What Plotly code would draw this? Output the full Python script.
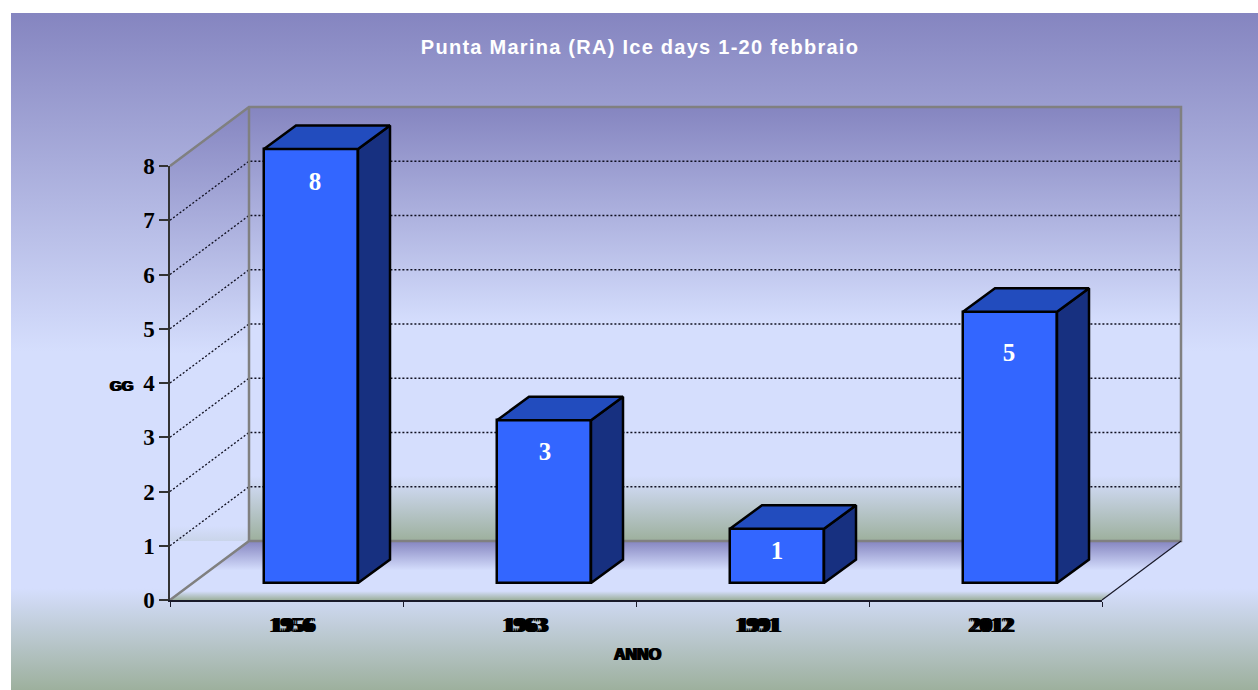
import plotly.graph_objects as go

# ---- data ----
YEARS = ["1956", "1963", "1991", "2012"]
ICE_DAYS = [8, 3, 1, 5]
Y_TICKS = [0, 1, 2, 3, 4, 5, 6, 7, 8]
X_BOUNDARIES = [0, 1, 2, 3, 4]
TITLE = "Punta Marina (RA) Ice days 1-20 febbraio"

# ---- layout geometry (pixels) ----
W, H = 1258, 690
PX_X0, PX_CAT = 170, 233
PX_Y0, PX_UNIT = 600, 54.25
LEFT, TOP = 11, 13


def ux(px):
    return (px - PX_X0) / PX_CAT


def uy(py):
    return (PX_Y0 - py) / PX_UNIT


DEPTH_X, DEPTH_Y = 79 / PX_CAT, 59 / PX_UNIT
BAR_SHIFT_X, BAR_BASE = 24.5 / PX_CAT, 17 / PX_UNIT
BAR_W = 94 / PX_CAT
BAR_DX, BAR_DY = 32 / PX_CAT, 23.5 / PX_UNIT
LABEL_DROP_PX = [35, 33, 24, 43]
LABEL_SHIFT_PX = [4, 1, 0, -1]

GRAD = [[0, "#8585c0"], [0.5, "#d5defd"], [0.85, "#d5defd"], [1, "#9db09d"]]
PALE = "#d5defd"
GREY = "#808080"
FRONT, SIDE, TOPC = "#3366ff", "#173080", "#224cbe"
INK = "#1a1a2a"

fig = go.Figure()


def poly(xs, ys, top=None, bottom=None, color=None, axes=("x", "y")):
    kw = dict(x=xs + xs[:1], y=ys + ys[:1], mode="lines", fill="toself", line=dict(width=0),
              hoverinfo="skip", showlegend=False, xaxis=axes[0], yaxis=axes[1])
    if color:
        kw["fillcolor"] = color
    else:
        kw["fillgradient"] = dict(type="vertical", colorscale=[[1 - p, c] for p, c in reversed(GRAD)],
                                  start=bottom, stop=top)
    fig.add_trace(go.Scatter(**kw))


def line(xs, ys, color, width, dash="solid"):
    fig.add_trace(go.Scatter(x=xs, y=ys, mode="lines", line=dict(color=color, width=width, dash=dash),
                             hoverinfo="skip", showlegend=False, xaxis="x", yaxis="y"))


x_end = X_BOUNDARIES[-1]
y_end = Y_TICKS[-1]

# page background
poly([ux(LEFT), ux(W), ux(W), ux(LEFT)], [uy(TOP), uy(TOP), uy(H), uy(H)], top=uy(TOP), bottom=uy(H))
# back wall
poly([DEPTH_X, x_end + DEPTH_X, x_end + DEPTH_X, DEPTH_X],
     [DEPTH_Y, DEPTH_Y, y_end + DEPTH_Y, y_end + DEPTH_Y], top=y_end + DEPTH_Y, bottom=DEPTH_Y)
# left wall
poly([0, DEPTH_X, DEPTH_X, 0], [0, DEPTH_Y, y_end + DEPTH_Y, y_end], top=y_end + DEPTH_Y, bottom=0)
poly([0, DEPTH_X, 0], [0, DEPTH_Y, DEPTH_Y], color=PALE)
# floor
poly([0, x_end, x_end + DEPTH_X, DEPTH_X], [0, 0, DEPTH_Y, DEPTH_Y], top=DEPTH_Y, bottom=0)

# grid lines on the walls
for v in Y_TICKS[1:-1]:
    line([0, DEPTH_X, x_end + DEPTH_X], [v, v + DEPTH_Y, v + DEPTH_Y], "#101020", 1.3, "2px,2px")

# wall outline
line([0, DEPTH_X, x_end + DEPTH_X, x_end + DEPTH_X, DEPTH_X, 0],
     [y_end, y_end + DEPTH_Y, y_end + DEPTH_Y, DEPTH_Y, DEPTH_Y, 0], GREY, 2.5)
line([DEPTH_X, DEPTH_X], [DEPTH_Y, y_end + DEPTH_Y], GREY, 2.5)
line([x_end, x_end + DEPTH_X], [0, DEPTH_Y], INK, 1.2)

# bars: front faces go through the bar trace, depth faces follow the same values
centers = [i + 0.5 + BAR_SHIFT_X for i in range(len(YEARS))]
fig.add_trace(go.Bar(x=centers, y=ICE_DAYS, base=BAR_BASE, width=BAR_W,
                     marker=dict(color=FRONT, line=dict(color="#000000", width=2.5)),
                     hoverinfo="skip", showlegend=False, xaxis="x3", yaxis="y3"))
for c, v in zip(centers, ICE_DAYS):
    l, r = c - BAR_W / 2, c + BAR_W / 2
    b, t = BAR_BASE, BAR_BASE + v
    for xs, ys, col in [
        ([r, r + BAR_DX, r + BAR_DX, r], [b, b + BAR_DY, t + BAR_DY, t], SIDE),
        ([l, r, r + BAR_DX, l + BAR_DX], [t, t, t + BAR_DY, t + BAR_DY], TOPC),
    ]:
        fig.add_trace(go.Scatter(x=xs + xs[:1], y=ys + ys[:1], mode="lines", fill="toself", fillcolor=col,
                                 line=dict(color="#000000", width=2.5), hoverinfo="skip", showlegend=False,
                                 xaxis="x3", yaxis="y3"))

fig.add_trace(go.Scatter(
    x=[c + s / PX_CAT for c, s in zip(centers, LABEL_SHIFT_PX)],
    y=[BAR_BASE + v - d / PX_UNIT for v, d in zip(ICE_DAYS, LABEL_DROP_PX)],
    mode="text", text=[str(v) for v in ICE_DAYS], textposition="middle center",
    textfont=dict(family="Liberation Serif", size=25, color="white", weight="bold"),
    hoverinfo="skip", showlegend=False, xaxis="x3", yaxis="y3"))

# a trace so that the real axes exist
fig.add_trace(go.Scatter(x=[0.5], y=[0], mode="markers", marker=dict(opacity=0), hoverinfo="skip",
                         showlegend=False, xaxis="x2", yaxis="y2"))

full_x = [ux(0), ux(W)]
full_y = [uy(H), uy(0)]
hidden = dict(visible=False, fixedrange=True, showgrid=False, zeroline=False)
fig.update_layout(
    width=W, height=H, margin=dict(l=0, r=0, t=0, b=0, pad=0, autoexpand=False),
    paper_bgcolor="white", plot_bgcolor="rgba(0,0,0,0)",
    showlegend=False, bargap=0, hovermode=False,
    title=dict(text=TITLE, x=640 / W, y=1 - 47 / H, xanchor="center", yanchor="middle",
               font=dict(family="Liberation Sans", size=20, color="white", weight="bold")),
    xaxis=dict(domain=[0, 1], range=full_x, anchor="y", **hidden),
    yaxis=dict(domain=[0, 1], range=full_y, anchor="x", **hidden),
    xaxis3=dict(domain=[0, 1], range=full_x, anchor="y3", **hidden),
    yaxis3=dict(domain=[0, 1], range=full_y, anchor="x3", **hidden),
    xaxis2=dict(domain=[PX_X0 / W, (PX_X0 + 4 * PX_CAT) / W], range=[0, x_end], anchor="y2",
                showgrid=False, zeroline=False, showline=True, linecolor=INK, linewidth=1.5,
                tickmode="array", tickvals=[i + 0.5 for i in range(len(YEARS))], ticktext=YEARS,
                ticks="", ticklabelstandoff=4, ticklabelshift=6,
                tickfont=dict(family="Liberation Serif", size=22, color="#000000", weight="bold",
                              shadow="2px 0 0 #000, -2px 0 0 #000"),
                minor=dict(tickmode="array", tickvals=X_BOUNDARIES, ticks="outside", ticklen=5,
                           tickcolor=INK, tickwidth=1, showgrid=False),
                fixedrange=True),
    yaxis2=dict(domain=[(H - PX_Y0) / H, (H - PX_Y0 + 8 * PX_UNIT) / H], range=[0, y_end], anchor="x2",
                showgrid=False, zeroline=False, showline=True, linecolor="#333333", linewidth=1.5,
                tickmode="array", tickvals=Y_TICKS, ticks="outside", ticklen=9, tickcolor="#333333",
                tickwidth=1.5, ticklabelstandoff=0,
                tickfont=dict(family="Liberation Serif", size=23, color="#000000", weight="bold"),
                fixedrange=True),
    annotations=[
        dict(text="GG", xref="paper", yref="paper", x=121 / W, y=1 - 386 / H, showarrow=False,
             xanchor="center", yanchor="middle",
             font=dict(family="Liberation Sans", size=15, color="#000000", weight="bold",
                       shadow="1px 0 0 #000, -1px 0 0 #000")),
        dict(text="ANNO", xref="paper", yref="paper", x=637 / W, y=1 - 654 / H, showarrow=False,
             xanchor="center", yanchor="middle",
             font=dict(family="Liberation Sans", size=16, color="#000000", weight="bold",
                       shadow="1px 0 0 #000, -1px 0 0 #000")),
    ],
)

POST = """
document.body.style.margin='0';
var t=document.querySelector('.gtitle');
if(t){t.style.letterSpacing='1.26px';}
"""
fig.write_html("out.html", post_script=POST, config={"displayModeBar": False})
